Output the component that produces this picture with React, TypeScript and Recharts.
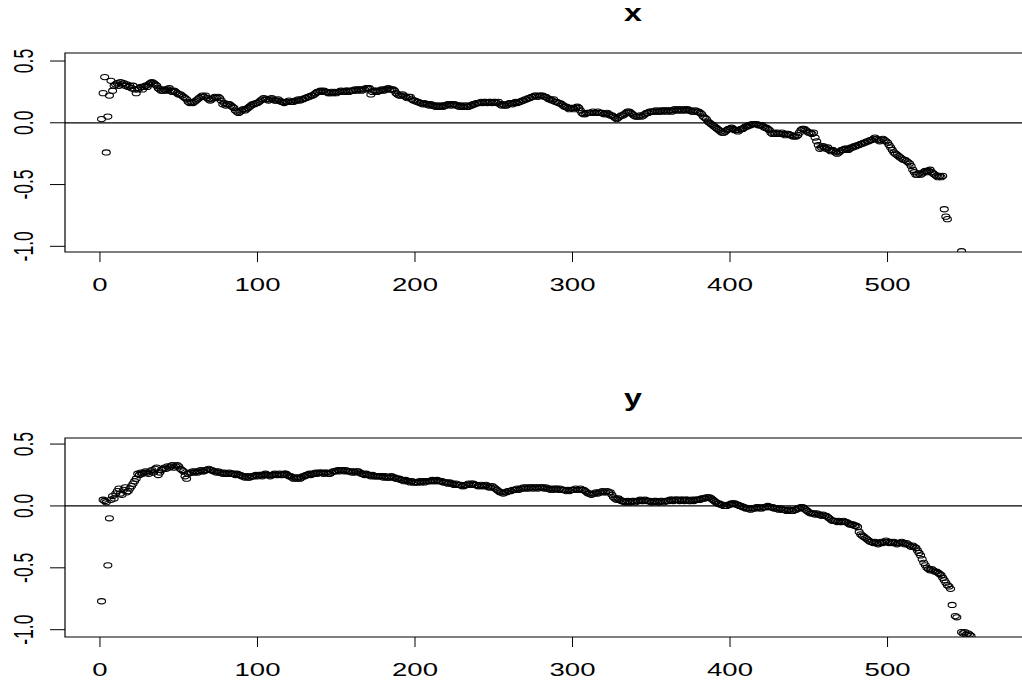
import { ReferenceArea, ReferenceLine, Scatter, ScatterChart, XAxis, YAxis } from "recharts"

// series x, index 1..N (null = not visible in the plot)
const xSeries: (number | null)[] = [
  0.03, 0.24, 0.37, -0.24, 0.05, 0.22, 0.34, 0.26, 0.30, 0.31,
  0.32, 0.30, 0.33, 0.31, 0.32, 0.30, 0.31, 0.29, 0.30, 0.28,
  0.30, 0.27, 0.24, 0.27, 0.28, 0.29, 0.27, 0.29, 0.30, 0.29,
  0.31, 0.32, 0.33, 0.32, 0.31, 0.30, 0.28, 0.27, 0.26, 0.26,
  0.27, 0.26, 0.27, 0.28, 0.26, 0.25, 0.26, 0.25, 0.24, 0.23,
  0.23, 0.22, 0.21, 0.20, 0.19, 0.17, 0.16, 0.17, 0.16, 0.17,
  0.18, 0.19, 0.20, 0.21, 0.22, 0.21, 0.22, 0.20, 0.19, 0.18,
  0.19, 0.20, 0.21, 0.20, 0.21, 0.20, 0.18, 0.15, 0.16, 0.14,
  0.15, 0.15, 0.14, 0.13, 0.12, 0.10, 0.09, 0.08, 0.09, 0.10,
  0.11, 0.10, 0.11, 0.12, 0.13, 0.14, 0.15, 0.15, 0.16, 0.16,
  0.17, 0.18, 0.19, 0.20, 0.19, 0.19, 0.18, 0.19, 0.20, 0.19,
  0.18, 0.18, 0.19, 0.18, 0.17, 0.17, 0.16, 0.17, 0.17, 0.18,
  0.17, 0.17, 0.17, 0.18, 0.18, 0.19, 0.18, 0.19, 0.19, 0.20,
  0.20, 0.21, 0.21, 0.22, 0.22, 0.23, 0.24, 0.25, 0.25, 0.26,
  0.25, 0.26, 0.25, 0.25, 0.24, 0.24, 0.25, 0.24, 0.25, 0.24,
  0.25, 0.25, 0.26, 0.25, 0.25, 0.26, 0.26, 0.25, 0.26, 0.26,
  0.26, 0.27, 0.26, 0.27, 0.27, 0.26, 0.27, 0.27, 0.28, 0.28,
  0.28, 0.23, 0.25, 0.26, 0.26, 0.25, 0.26, 0.26, 0.27, 0.26,
  0.27, 0.27, 0.28, 0.27, 0.27, 0.27, 0.26, 0.24, 0.23, 0.22,
  0.22, 0.23, 0.22, 0.21, 0.20, 0.21, 0.21, 0.19, 0.18, 0.18,
  0.17, 0.17, 0.16, 0.16, 0.15, 0.16, 0.15, 0.15, 0.14, 0.15,
  0.14, 0.14, 0.13, 0.14, 0.13, 0.13, 0.14, 0.13, 0.14, 0.14,
  0.15, 0.15, 0.14, 0.15, 0.15, 0.14, 0.14, 0.13, 0.14, 0.13,
  0.13, 0.14, 0.13, 0.13, 0.14, 0.14, 0.15, 0.15, 0.16, 0.16,
  0.16, 0.17, 0.16, 0.17, 0.17, 0.16, 0.17, 0.17, 0.16, 0.17,
  0.17, 0.16, 0.17, 0.15, 0.14, 0.15, 0.14, 0.14, 0.15, 0.16,
  0.16, 0.15, 0.16, 0.17, 0.16, 0.17, 0.17, 0.18, 0.18, 0.19,
  0.19, 0.20, 0.20, 0.21, 0.21, 0.22, 0.22, 0.21, 0.22, 0.22,
  0.22, 0.21, 0.21, 0.20, 0.19, 0.19, 0.18, 0.19, 0.17, 0.17,
  0.16, 0.16, 0.15, 0.14, 0.13, 0.13, 0.12, 0.11, 0.12, 0.12,
  0.11, 0.12, 0.13, 0.12, 0.10, 0.08, 0.07, 0.07, 0.08, 0.08,
  0.08, 0.08, 0.09, 0.08, 0.08, 0.09, 0.08, 0.08, 0.08, 0.07,
  0.07, 0.08, 0.07, 0.06, 0.06, 0.05, 0.04, 0.03, 0.04, 0.05,
  0.06, 0.06, 0.07, 0.08, 0.09, 0.09, 0.08, 0.07, 0.06, 0.05,
  0.05, 0.05, 0.06, 0.05, 0.06, 0.07, 0.08, 0.08, 0.09, 0.09,
  0.09, 0.09, 0.10, 0.09, 0.09, 0.10, 0.09, 0.10, 0.10, 0.09,
  0.10, 0.10, 0.09, 0.10, 0.11, 0.10, 0.10, 0.11, 0.10, 0.10,
  0.11, 0.10, 0.11, 0.10, 0.10, 0.09, 0.09, 0.10, 0.09, 0.09,
  0.08, 0.07, 0.05, 0.04, 0.03, 0.01, 0.00, -0.01, -0.02, -0.03,
  -0.04, -0.05, -0.06, -0.07, -0.08, -0.08, -0.07, -0.06, -0.05, -0.05,
  -0.04, -0.05, -0.06, -0.06, -0.07, -0.06, -0.05, -0.05, -0.04, -0.03,
  -0.03, -0.02, -0.02, -0.01, -0.01, -0.01, -0.01, -0.02, -0.02, -0.02,
  -0.03, -0.04, -0.04, -0.05, -0.06, -0.08, -0.09, -0.08, -0.09, -0.08,
  -0.09, -0.09, -0.08, -0.09, -0.10, -0.09, -0.09, -0.10, -0.10, -0.11,
  -0.11, -0.11, -0.10, -0.08, -0.06, -0.05, -0.05, -0.06, -0.07, -0.08,
  -0.08, -0.09, -0.08, -0.12, -0.15, -0.18, -0.21, -0.20, -0.19, -0.20,
  -0.21, -0.20, -0.22, -0.23, -0.22, -0.23, -0.24, -0.25, -0.24, -0.23,
  -0.22, -0.22, -0.21, -0.21, -0.22, -0.21, -0.20, -0.20, -0.19, -0.19,
  -0.18, -0.18, -0.17, -0.17, -0.16, -0.16, -0.15, -0.15, -0.14, -0.14,
  -0.13, -0.12, -0.13, -0.14, -0.15, -0.14, -0.13, -0.14, -0.15, -0.16,
  -0.18, -0.20, -0.22, -0.24, -0.25, -0.26, -0.27, -0.28, -0.29, -0.30,
  -0.30, -0.31, -0.32, -0.33, -0.35, -0.38, -0.40, -0.42, -0.42, -0.41,
  -0.42, -0.41, -0.40, -0.39, -0.40, -0.39, -0.38, -0.40, -0.41, -0.42,
  -0.43, -0.44, -0.43, -0.44, -0.43, -0.70, -0.76, -0.78, null, null,
  null, null, null, null, null, null, -1.04,
]

// series y, index 1..N
const ySeries: (number | null)[] = [
  -0.77, 0.05, 0.04, 0.03, -0.48, -0.10, 0.05, 0.08, 0.06, 0.10,
  0.12, 0.14, 0.10, 0.09, 0.13, 0.15, 0.11, 0.12, 0.14, 0.16,
  0.18, 0.20, 0.22, 0.26, 0.25, 0.27, 0.26, 0.27, 0.28, 0.27,
  0.26, 0.28, 0.29, 0.27, 0.30, 0.31, 0.25, 0.27, 0.29, 0.30,
  0.31, 0.30, 0.32, 0.31, 0.32, 0.33, 0.31, 0.32, 0.33, 0.32,
  0.30, 0.29, 0.28, 0.24, 0.22, 0.26, 0.27, 0.27, 0.28, 0.27,
  0.28, 0.27, 0.28, 0.29, 0.28, 0.28, 0.29, 0.29, 0.30, 0.29,
  0.29, 0.28, 0.28, 0.27, 0.28, 0.27, 0.27, 0.26, 0.27, 0.26,
  0.26, 0.27, 0.26, 0.26, 0.26, 0.25, 0.26, 0.25, 0.25, 0.24,
  0.24, 0.23, 0.24, 0.23, 0.23, 0.24, 0.24, 0.24, 0.25, 0.24,
  0.25, 0.25, 0.24, 0.25, 0.26, 0.25, 0.25, 0.24, 0.25, 0.25,
  0.26, 0.25, 0.25, 0.26, 0.25, 0.25, 0.26, 0.26, 0.25, 0.24,
  0.24, 0.23, 0.22, 0.23, 0.22, 0.23, 0.22, 0.23, 0.24, 0.24,
  0.25, 0.25, 0.26, 0.25, 0.26, 0.26, 0.27, 0.26, 0.27, 0.27,
  0.27, 0.26, 0.27, 0.27, 0.26, 0.26, 0.27, 0.28, 0.28, 0.28,
  0.29, 0.28, 0.29, 0.29, 0.28, 0.29, 0.28, 0.28, 0.28, 0.27,
  0.28, 0.27, 0.28, 0.28, 0.27, 0.26, 0.26, 0.25, 0.26, 0.25,
  0.25, 0.24, 0.25, 0.24, 0.24, 0.24, 0.24, 0.24, 0.24, 0.23,
  0.24, 0.23, 0.23, 0.23, 0.24, 0.23, 0.23, 0.22, 0.22, 0.22,
  0.21, 0.21, 0.20, 0.21, 0.20, 0.20, 0.19, 0.20, 0.19, 0.19,
  0.19, 0.19, 0.20, 0.19, 0.20, 0.19, 0.20, 0.20, 0.20, 0.20,
  0.21, 0.20, 0.20, 0.21, 0.20, 0.20, 0.20, 0.19, 0.19, 0.19,
  0.18, 0.19, 0.18, 0.18, 0.17, 0.18, 0.17, 0.17, 0.17, 0.16,
  0.16, 0.17, 0.17, 0.18, 0.17, 0.18, 0.18, 0.17, 0.17, 0.16,
  0.16, 0.17, 0.16, 0.16, 0.17, 0.16, 0.15, 0.15, 0.16, 0.15,
  0.14, 0.13, 0.12, 0.11, 0.11, 0.10, 0.11, 0.11, 0.12, 0.12,
  0.12, 0.13, 0.13, 0.13, 0.14, 0.13, 0.14, 0.14, 0.15, 0.14,
  0.15, 0.14, 0.15, 0.15, 0.14, 0.15, 0.15, 0.14, 0.15, 0.15,
  0.15, 0.14, 0.15, 0.14, 0.14, 0.13, 0.14, 0.13, 0.14, 0.14,
  0.13, 0.14, 0.13, 0.13, 0.13, 0.12, 0.13, 0.12, 0.13, 0.13,
  0.13, 0.14, 0.13, 0.13, 0.14, 0.13, 0.13, 0.12, 0.11, 0.10,
  0.10, 0.09, 0.10, 0.10, 0.11, 0.10, 0.11, 0.11, 0.12, 0.11,
  0.11, 0.12, 0.11, 0.11, 0.09, 0.07, 0.06, 0.05, 0.06, 0.05,
  0.04, 0.04, 0.03, 0.03, 0.04, 0.03, 0.03, 0.04, 0.04, 0.03,
  0.04, 0.04, 0.05, 0.04, 0.04, 0.05, 0.04, 0.04, 0.04, 0.03,
  0.03, 0.04, 0.04, 0.03, 0.03, 0.04, 0.04, 0.03, 0.04, 0.04,
  0.04, 0.05, 0.05, 0.04, 0.05, 0.05, 0.05, 0.04, 0.05, 0.05,
  0.04, 0.05, 0.05, 0.04, 0.04, 0.05, 0.04, 0.05, 0.05, 0.05,
  0.05, 0.06, 0.06, 0.06, 0.07, 0.07, 0.07, 0.06, 0.05, 0.04,
  0.03, 0.02, 0.02, 0.01, 0.01, 0.00, 0.00, 0.00, 0.01, 0.01,
  0.02, 0.02, 0.02, 0.01, 0.01, 0.00, 0.00, -0.01, -0.01, -0.02,
  -0.02, -0.02, -0.03, -0.02, -0.02, -0.02, -0.01, -0.01, -0.02, -0.02,
  -0.01, -0.01, -0.01, 0.00, -0.01, -0.01, -0.01, -0.02, -0.02, -0.02,
  -0.03, -0.02, -0.03, -0.03, -0.03, -0.04, -0.03, -0.03, -0.04, -0.04,
  -0.03, -0.03, -0.02, -0.02, -0.01, -0.01, -0.02, -0.03, -0.04, -0.05,
  -0.06, -0.06, -0.06, -0.07, -0.06, -0.07, -0.07, -0.08, -0.07, -0.08,
  -0.08, -0.09, -0.10, -0.11, -0.12, -0.12, -0.12, -0.13, -0.12, -0.13,
  -0.13, -0.12, -0.13, -0.13, -0.14, -0.15, -0.15, -0.15, -0.16, -0.16,
  -0.17, -0.21, -0.23, -0.24, -0.25, -0.26, -0.27, -0.28, -0.29, -0.29,
  -0.30, -0.29, -0.30, -0.31, -0.30, -0.29, -0.30, -0.29, -0.28, -0.29,
  -0.30, -0.29, -0.30, -0.29, -0.30, -0.31, -0.30, -0.30, -0.29, -0.30,
  -0.31, -0.30, -0.31, -0.32, -0.33, -0.32, -0.33, -0.34, -0.36, -0.38,
  -0.40, -0.43, -0.46, -0.48, -0.50, -0.51, -0.52, -0.51, -0.52, -0.53,
  -0.53, -0.54, -0.55, -0.56, -0.58, -0.60, -0.62, -0.64, -0.65, -0.67,
  -0.80, null, -0.89, -0.90, null, null, -1.02, -1.03, -1.02, -1.04,
  -1.03, -1.04, -1.05,
]

const xTicks = [0, 100, 200, 300, 400, 500]
const yTicks = [-1.0, -0.5, 0.0, 0.5]

const FONT = "'Liberation Sans', Arial, Helvetica, sans-serif"
const CHART_W = 1250
const CHART_H = 340
const X_DOMAIN: [number, number] = [-22.2, 699]

function toPoints(values: (number | null)[]) {
  return values
    .map((v, k) => ({ i: k + 1, v }))
    .filter((p) => p.v !== null) as { i: number; v: number }[]
}

function XTick(props: any) {
  const { x, y, payload } = props
  return (
    <text
      transform={`translate(${x},${y + 29}) scale(1.45,1)`}
      textAnchor="middle"
      fontSize={19}
      fontFamily={FONT}
      fill="#000"
    >
      {payload.value}
    </text>
  )
}

function YTick(props: any) {
  const { y, payload } = props
  return (
    <text
      transform={`translate(33,${y}) scale(1.6,1) rotate(-90)`}
      textAnchor="middle"
      fontSize={17.5}
      fontFamily={FONT}
      fill="#000"
    >
      {Number(payload.value).toFixed(1)}
    </text>
  )
}

function Ring(props: any) {
  const { cx, cy } = props
  return <ellipse cx={cx} cy={cy} rx={4} ry={2.6} fill="none" stroke="#000" strokeWidth={1.1} />
}

function Panel({ title, values, top, yDomain }: { title: string; values: (number | null)[]; top: number; yDomain: [number, number] }) {
  const points = toPoints(values)
  return (
    <div style={{ position: "absolute", left: 0, top }}>
      <ScatterChart width={CHART_W} height={CHART_H} margin={{ top: 53, right: 49, bottom: 28, left: 0 }}>
        <XAxis
          type="number"
          dataKey="i"
          domain={X_DOMAIN}
          allowDataOverflow
          ticks={xTicks}
          interval={0}
          height={60}
          tickSize={10}
          tickMargin={0}
          axisLine={false}
          tickLine={{ stroke: "#000" }}
          tick={<XTick />}
        />
        <YAxis
          type="number"
          dataKey="v"
          domain={yDomain}
          allowDataOverflow
          ticks={yTicks}
          interval={0}
          width={65}
          tickSize={15}
          tickMargin={0}
          axisLine={false}
          tickLine={{ stroke: "#000" }}
          tick={<YTick />}
        />
        <ReferenceArea x1={X_DOMAIN[0]} x2={X_DOMAIN[1]} y1={yDomain[0]} y2={yDomain[1]} fill="none" stroke="#000" strokeWidth={1.2} />
        <ReferenceLine y={0} stroke="#000" strokeWidth={1.2} />
        <Scatter data={points} shape={<Ring />} isAnimationActive={false} />
      </ScatterChart>
      <svg width={CHART_W} height={40} style={{ position: "absolute", left: 0, top: 0 }}>
        <text
          transform="translate(633,21) scale(1.4,1)"
          textAnchor="middle"
          fontSize={23}
          fontWeight="bold"
          fontFamily={FONT}
          fill="#000"
        >
          {title}
        </text>
      </svg>
    </div>
  )
}

export default function App() {
  return (
    <div style={{ position: "absolute", left: 0, top: 0, width: 1022, height: 681, overflow: "hidden", background: "#fff" }}>
      <Panel title="x" values={xSeries} top={0} yDomain={[-1.046, 0.565]} />
      <Panel title="y" values={ySeries} top={385} yDomain={[-1.059, 0.549]} />
    </div>
  )
}
